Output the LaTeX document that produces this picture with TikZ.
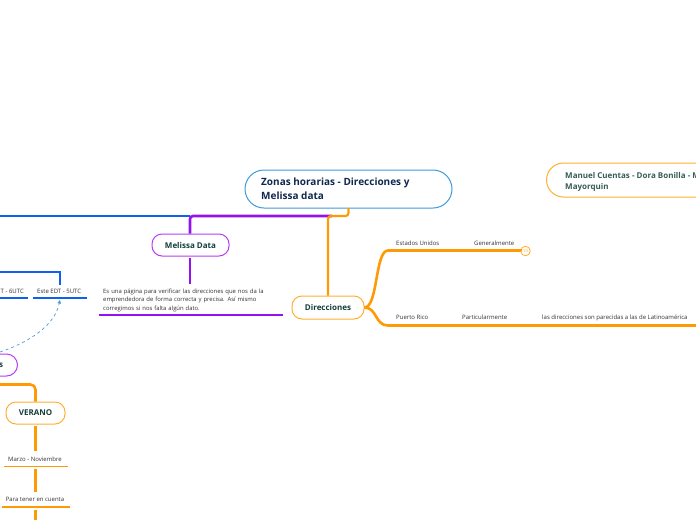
\documentclass[tikz,border=0pt]{standalone}
\usepackage{fontspec}
\usetikzlibrary{arrows.meta}
\setmainfont{Open Sans}
\definecolor{cblue}{HTML}{0F5FF0}
\definecolor{cpurple}{HTML}{9512EE}
\definecolor{corange}{HTML}{FF9A05}
\definecolor{cborder}{HTML}{3D9BDD}
\definecolor{clight}{HTML}{FFB031}
\definecolor{cpurb}{HTML}{B93CF2}
\definecolor{cdash}{HTML}{4C9BE0}
\definecolor{tgreen}{HTML}{123F3A}
\definecolor{tnavy}{HTML}{10284F}
\definecolor{ttext}{HTML}{333333}
\tikzset{
  x=1pt,y=-1pt,
  topic/.style={draw,line width=1pt,rounded corners=#1,inner sep=0pt,fill=white,font=\bfseries\fontsize{8}{10}\selectfont,text=tgreen,align=center},
  topic/.default=10pt,
  small/.style={inner sep=0pt,anchor=base west,font=\fontsize{6}{8.5}\selectfont,text=ttext},
  blueline/.style={cblue,line width=2.6pt},
  purpleline/.style={cpurple,line width=2.6pt},
  orangeline/.style={corange,line width=2.6pt},
}
\begin{document}
\begin{tikzpicture}
\useasboundingbox (0,0) rectangle (696,520);
\clip (0,0) rectangle (696,520);
\fill[white] (0,0) rectangle (696,520);
% nodes
\node[topic=19pt,draw=cborder,minimum width=207pt,minimum height=38pt] (root) at (348.5,189) {};
\node[inner sep=0pt,anchor=west,align=left,font=\bfseries\fontsize{10}{14}\selectfont,text=tnavy] (roott) at (261,189) {Zonas horarias - Direcciones y\\Melissa data};
\node[topic,draw=cpurb,minimum width=77pt,minimum height=22pt] (mel) at (190.5,245) {\raisebox{-.8pt}{Melissa Data}};
\node[topic,draw=clight,minimum width=72pt,minimum height=23pt] (dir) at (328,307.5) {\raisebox{-.8pt}{Direcciones}};
\node[topic,draw=clight,minimum width=59pt,minimum height=22pt] (ver) at (35.5,413) {\raisebox{-.8pt}{VERANO}};
\node[topic=11pt,draw=cpurb,minimum width=50pt,minimum height=22pt,anchor=east,text width=47pt,align=right] (es) at (18,365) {es\hspace*{13pt}};
\node[topic=17pt,draw=clight,minimum width=200pt,minimum height=34pt,anchor=west] (man) at (546,180) {};
\node[inner sep=0pt,anchor=west,align=left,font=\bfseries\fontsize{8}{11}\selectfont,text=tgreen!85!white] (mant) at (565,181.5) {Manuel Cuentas - Dora Bonilla - M\\Mayorquin};
\node[small] (este) at (37,293) {Este EDT - 5UTC};
\node[small,anchor=base east] (cdt) at (24,293) {T - 6UTC};
\node[small,anchor=north west,align=left,text width=178pt,font=\fontsize{5.9}{8.5}\selectfont] (desc) at (103,288.5) {Es una página para verificar las direcciones que nos da la\\emprendedora de forma correcta y precisa. Así mismo\\corregimos si nos falta algún dato.};
\node[small,anchor=base] (mar) at (35,461) {Marzo - Noviembre};
\node[small,anchor=base] (para) at (35,501) {Para tener en cuenta};
\node[small] (eu) at (396,245) {Estados Unidos};
\node[small] (gen) at (474,245) {Generalmente};
\node[small] (pr) at (396,319) {Puerto Rico};
\node[small] (par) at (462,319) {Particularmente};
\node[small] (las) at (542,319) {las direcciones son parecidas a las de Latinoamérica};
\node[circle,draw=clight,line width=.8pt,minimum size=9.5pt,inner sep=0pt,font=\fontsize{4.5}{5}\selectfont,text=clight] (ten) at (525.5,251) {10};
% free ends
\coordinate (leftb) at (0,216);
\coordinate (junc) at (190,216);
\coordinate (rb) at (348.5,208);
\coordinate (meltop) at (190,233.5);
\coordinate (melbot) at (190,258);
\coordinate (desctop) at (190,284);
\coordinate (ula) at (99,315);
\coordinate (ulb) at (283,315);
\coordinate (bl1) at (0,272);
\coordinate (bl2) at (60,272);
\coordinate (bl3) at (60,285);
\coordinate (ua1) at (0,298);
\coordinate (ua2) at (28,298);
\coordinate (ub1) at (33,298);
\coordinate (ub2) at (87,298);
\coordinate (dash0) at (0,352);
\coordinate (dash1) at (60,299.5);
\coordinate (o1) at (0,384.5);
\coordinate (o2) at (35.5,384.5);
\coordinate (va) at (35.5,426);
\coordinate (vb) at (35.5,451);
\coordinate (m1) at (3.5,466.5);
\coordinate (m2) at (67.5,466.5);
\coordinate (vc) at (35.5,469);
\coordinate (vd) at (35.5,492);
\coordinate (p1) at (1.5,507);
\coordinate (p2) at (70,507);
\coordinate (ve) at (35.5,510);
\coordinate (vf) at (35.5,520);
\coordinate (eu0) at (388,250.5);
\coordinate (eu1) at (520.5,250.5);
\coordinate (pr0) at (388,325.5);
\coordinate (pr1) at (696,325.5);
% connectors
\draw[blueline] (leftb) -- (junc);
\draw[purpleline,rounded corners=3pt] (meltop) -- (junc) -- (332,216);
\draw[purpleline] (desctop) -- (melbot);
\draw[purpleline,line width=1.6pt] (ula) -- (ulb);
\draw[corange,line width=2.2pt,rounded corners=3pt] (rb) -- ++(0,8) -| (dir.north);
\draw[blueline,line cap=butt] (bl1) -- (bl2) -- (bl3);
\draw[blueline,line width=1.6pt] (ua1) -- (ua2);
\draw[blueline,line width=1.6pt] (ub1) -- (ub2);
\draw[cdash,line width=.7pt,dashed,-{Latex[length=4pt,width=4pt]}] (dash0) .. controls (30,342) and (55,325) .. (dash1);
\draw[orangeline,rounded corners=5pt] (o1) -- (o2) -- (ver.north);
\draw[orangeline] (va) -- (vb);
\draw[orangeline,line width=1.8pt] (m1) -- (m2);
\draw[orangeline] (vc) -- (vd);
\draw[orangeline,line width=1.8pt] (p1) -- (p2);
\draw[orangeline] (ve) -- (vf);
\draw[orangeline] (dir.east) .. controls (378,307.5) and (375,250.5) .. (eu0) -- (eu1) -- (ten.west);
\draw[orangeline] (dir.east) .. controls (377,307.5) and (375,325.5) .. (pr0) -- (pr1);
\end{tikzpicture}
\end{document}
